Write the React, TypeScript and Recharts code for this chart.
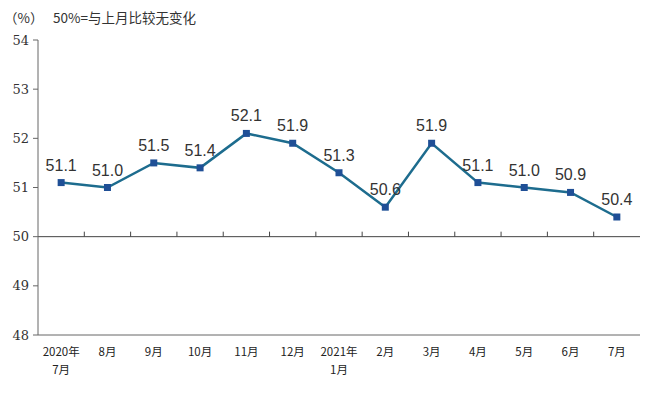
import React from "react"
import { LineChart, Line, XAxis, YAxis, LabelList, ReferenceLine } from "recharts"

const months = ["2020年\n7月", "8月", "9月", "10月", "11月", "12月", "2021年\n1月", "2月", "3月", "4月", "5月", "6月", "7月"]
const pmi = [51.1, 51.0, 51.5, 51.4, 52.1, 51.9, 51.3, 50.6, 51.9, 51.1, 51.0, 50.9, 50.4]
const yTicks = [48, 49, 50, 51, 52, 53, 54]

const data = months.map((m, i) => ({ month: m, value: pmi[i] }))

const W = 649
const H = 393
const M = { top: 40, right: 9, bottom: 8, left: 8 }
const Y_W = 30
const X_H = 50
const PLOT_TOP = M.top
const PLOT_H = H - M.top - M.bottom - X_H
const PLOT_W = W - M.left - Y_W - M.right
const HALF_BAND = PLOT_W / months.length / 2
const LINE50 = PLOT_TOP + (PLOT_H * (54 - 50)) / (54 - 48)

const MonthTick = (props: any) => {
  const { x, y, payload, index } = props
  const lines = String(payload.value).split("\n")
  return (
    <g>
      {index > 0 && (
        <line x1={x - HALF_BAND} x2={x - HALF_BAND} y1={LINE50} y2={LINE50 - 5} stroke="#444" strokeWidth={1} />
      )}
      {lines.map((t, i) => (
        <text
          key={i}
          x={x}
          y={y + 13 + i * 17.5}
          textAnchor="middle"
          fontSize={11.5}
          fill="#222"
          fontFamily="'Noto Sans CJK SC', sans-serif"
        >
          {t}
        </text>
      ))}
    </g>
  )
}

const SquareDot = (props: any) => {
  const { cx, cy } = props
  return <rect x={cx - 3.5} y={cy - 3.5} width={7} height={7} fill="#1f4f96" />
}

const titleStyle: React.CSSProperties = {
  position: "absolute",
  top: 7,
  fontSize: 13.5,
  color: "#333",
  fontFamily: "'Noto Sans CJK SC', sans-serif",
  whiteSpace: "nowrap",
}

export default function App() {
  return (
    <div style={{ position: "absolute", left: 0, top: 0, width: W, height: H, background: "#fff" }}>
      <div style={{ ...titleStyle, left: 4 }}>（%）</div>
      <div style={{ ...titleStyle, left: 53 }}>50%=与上月比较无变化</div>
      <LineChart width={W} height={H} data={data} margin={M}>
        <XAxis
          dataKey="month"
          height={X_H}
          padding={{ left: HALF_BAND, right: HALF_BAND }}
          tickLine={false}
          axisLine={{ stroke: "#666" }}
          tick={<MonthTick />}
          interval={0}
        />
        <XAxis xAxisId="top" dataKey="month" orientation="top" height={0} tick={false} tickLine={false} axisLine={{ stroke: "#777" }} />
        <YAxis
          domain={[48, 54]}
          ticks={yTicks}
          width={Y_W}
          tickSize={5}
          tickMargin={4}
          tickLine={{ stroke: "#666" }}
          axisLine={{ stroke: "#666" }}
          tick={{ fontSize: 13, fill: "#333", fontFamily: "'DejaVu Serif', serif" }}
        />
        <YAxis yAxisId="right" orientation="right" width={0} domain={[48, 54]} tick={false} tickLine={false} axisLine={{ stroke: "#777" }} />
        <ReferenceLine y={50} stroke="#444" strokeWidth={1} />
        <Line
          dataKey="value"
          stroke="#1d6c8e"
          strokeWidth={2.5}
          dot={<SquareDot />}
          activeDot={false}
          isAnimationActive={false}
        >
          <LabelList
            dataKey="value"
            position="top"
            offset={12}
            formatter={(v: any) => Number(v).toFixed(1)}
            style={{ fontSize: 16, fill: "#333", fontFamily: "'Liberation Sans', Arial, sans-serif" }}
          />
        </Line>
      </LineChart>
    </div>
  )
}
